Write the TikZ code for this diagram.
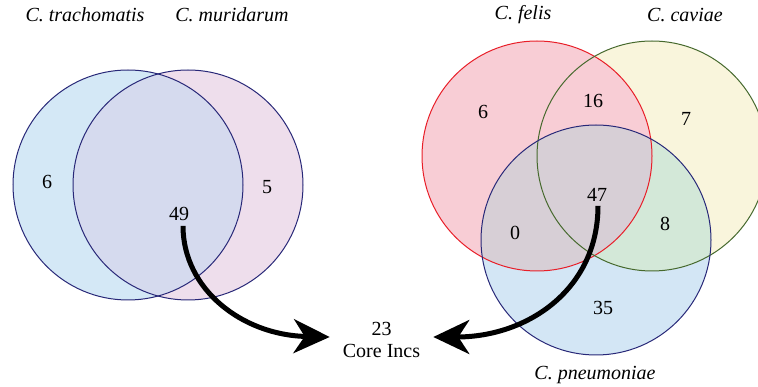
\documentclass[tikz,border=0pt]{standalone}
\usepackage{fontspec}
\setmainfont{Liberation Serif}
\usetikzlibrary{arrows.meta}
\definecolor{tblue}{RGB}{212,232,246}
\definecolor{mpink}{RGB}{238,222,236}
\definecolor{tmover}{RGB}{213,218,238}
\definecolor{navy}{RGB}{40,40,120}
\definecolor{fpink}{RGB}{248,205,213}
\definecolor{fred}{RGB}{232,30,40}
\definecolor{cyel}{RGB}{249,245,220}
\definecolor{cgreen}{RGB}{70,105,45}
\definecolor{pblue}{RGB}{211,230,245}
\definecolor{pgreen}{RGB}{211,232,216}
\definecolor{pmauve}{RGB}{215,207,214}
\tikzset{
  lbl/.style={inner sep=1pt, font=\fontsize{20}{24}\selectfont},
  ttl/.style={inner sep=1pt, font=\fontsize{20}{24}\selectfont\itshape},
  bigarrow/.style={line width=5pt, -{Stealth[length=36pt, width=34pt, inset=11pt]}},
  ring/.style={line width=1pt}
}
\begin{document}
\begin{tikzpicture}[x=1pt,y=-1pt]
\useasboundingbox (0,0) rectangle (758,387);
% ---------- left Venn ----------
\fill[tblue] (128,185) circle (115);
\fill[mpink] (188,185) circle (115);
\begin{scope}
  \clip (128,185) circle (115);
  \fill[tmover] (188,185) circle (115);
\end{scope}
\draw[ring,navy] (128,185) circle (115);
\draw[ring,navy] (188,185) circle (115);
% ---------- right Venn ----------
\fill[cyel] (652,156) circle (115);
\fill[fpink] (537,156) circle (115);
\fill[pblue] (596,240) circle (115);
\begin{scope}
  \clip (596,240) circle (115);
  \fill[pgreen] (652,156) circle (115);
  \fill[pmauve] (537,156) circle (115);
\end{scope}
\draw[ring,fred] (537,156) circle (115);
\draw[ring,cgreen] (652,156) circle (115);
\draw[ring,navy] (596,240) circle (115);
% ---------- titles ----------
\node[ttl] (ttr) at (85,15) {C. trachomatis};
\node[ttl] (tmu) at (232,15) {C. muridarum};
\node[ttl] (tfe) at (523,15) {C. felis};
\node[ttl] (tca) at (685,15) {C. caviae};
\node[ttl] (tpn) at (595,375) {C. pneumoniae};
% ---------- counts ----------
\node[lbl] (l6) at (47,182) {6};
\node[lbl] (l5) at (267,187) {5};
\node[lbl] (l49) at (179,214) {49};
\node[lbl] (r6) at (483,112) {6};
\node[lbl] (r16) at (593,101) {16};
\node[lbl] (r7) at (686,119) {7};
\node[lbl] (r47) at (597,195) {47};
\node[lbl] (r0) at (515,233) {0};
\node[lbl] (r8) at (665,224) {8};
\node[lbl] (r35) at (603,308) {35};
\node[lbl, align=center, inner sep=0pt] (core) at (381.5,340) {23\\[-2pt]Core Incs};
% ---------- arrows ----------
\draw[bigarrow] ([xshift=4pt,yshift=-4pt]l49.south) .. controls +(0,63) and +(-88,-2) .. ([xshift=-13pt,yshift=3pt]core.west);
\draw[bigarrow] ([xshift=1pt,yshift=-3pt]r47.south) .. controls +(0,83) and +(95,0) .. ([xshift=13pt,yshift=3pt]core.east);
\end{tikzpicture}
\end{document}
